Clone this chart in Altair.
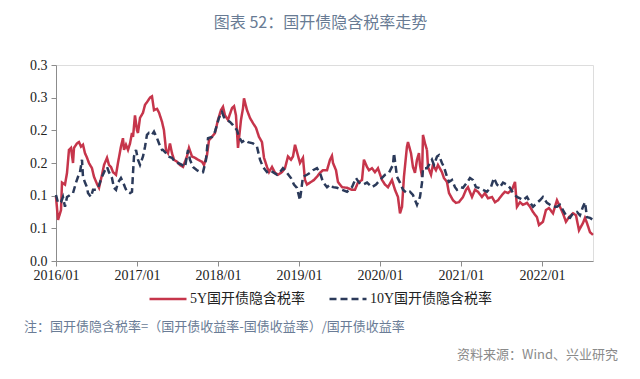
import altair as alt
import pandas as pd

series_names = ["5Y国开债隐含税率", "10Y国开债隐含税率"]

# 5Y series (decimal year, implied tax rate)
t_5y = [2016.000, 2016.025, 2016.062, 2016.074, 2016.111, 2016.136, 2016.160, 2016.185, 2016.210, 2016.222,
        2016.259, 2016.284, 2016.309, 2016.333, 2016.358, 2016.383, 2016.407, 2016.444, 2016.469, 2016.506,
        2016.531, 2016.568, 2016.593, 2016.630, 2016.654, 2016.679, 2016.704, 2016.741, 2016.765, 2016.802,
        2016.827, 2016.840, 2016.864, 2016.889, 2016.914, 2016.938, 2016.951, 2016.975, 2017.000, 2017.012,
        2017.037, 2017.074, 2017.099, 2017.123, 2017.160, 2017.185, 2017.210, 2017.247, 2017.272, 2017.309,
        2017.333, 2017.358, 2017.383, 2017.407, 2017.432, 2017.457, 2017.494, 2017.531, 2017.568, 2017.617,
        2017.642, 2017.679, 2017.716, 2017.753, 2017.802, 2017.827, 2017.864, 2017.889, 2017.926, 2017.963,
        2018.000, 2018.037, 2018.062, 2018.086, 2018.123, 2018.173, 2018.198, 2018.222, 2018.247, 2018.284,
        2018.309, 2018.321, 2018.358, 2018.395, 2018.432, 2018.469, 2018.506, 2018.543, 2018.568, 2018.605,
        2018.630, 2018.667, 2018.704, 2018.741, 2018.790, 2018.827, 2018.864, 2018.901, 2018.926, 2018.951,
        2018.975, 2019.012, 2019.049, 2019.074, 2019.099, 2019.148, 2019.185, 2019.222, 2019.259, 2019.296,
        2019.346, 2019.383, 2019.407, 2019.420, 2019.457, 2019.481, 2019.531, 2019.593, 2019.654, 2019.691,
        2019.728, 2019.778, 2019.802, 2019.840, 2019.864, 2019.901, 2019.938, 2019.975, 2020.025, 2020.062,
        2020.099, 2020.148, 2020.185, 2020.222, 2020.247, 2020.272, 2020.296, 2020.333, 2020.346, 2020.383,
        2020.407, 2020.432, 2020.457, 2020.481, 2020.494, 2020.519, 2020.531, 2020.556, 2020.580, 2020.593,
        2020.630, 2020.654, 2020.691, 2020.716, 2020.765, 2020.790, 2020.827, 2020.852, 2020.901, 2020.938,
        2020.975, 2021.025, 2021.062, 2021.086, 2021.136, 2021.173, 2021.210, 2021.259, 2021.296, 2021.333,
        2021.383, 2021.420, 2021.457, 2021.506, 2021.543, 2021.580, 2021.630, 2021.667, 2021.691, 2021.728,
        2021.765, 2021.815, 2021.852, 2021.889, 2021.938, 2021.963, 2022.012, 2022.049, 2022.086, 2022.136,
        2022.185, 2022.222, 2022.259, 2022.296, 2022.333, 2022.383, 2022.420, 2022.457, 2022.506, 2022.531,
        2022.556, 2022.593, 2022.630]
v_5y = [0.098, 0.063, 0.078, 0.120, 0.117, 0.135, 0.170, 0.173, 0.150, 0.173,
        0.180, 0.182, 0.175, 0.178, 0.165, 0.158, 0.150, 0.142, 0.129, 0.118,
        0.112, 0.132, 0.147, 0.158, 0.147, 0.144, 0.136, 0.132, 0.150, 0.175,
        0.188, 0.170, 0.178, 0.170, 0.180, 0.196, 0.190, 0.223, 0.200, 0.196,
        0.219, 0.227, 0.239, 0.243, 0.250, 0.252, 0.231, 0.233, 0.227, 0.213,
        0.200, 0.170, 0.165, 0.180, 0.165, 0.155, 0.152, 0.147, 0.144, 0.160,
        0.173, 0.160, 0.158, 0.155, 0.152, 0.147, 0.162, 0.185, 0.190, 0.196,
        0.216, 0.231, 0.236, 0.223, 0.216, 0.234, 0.237, 0.223, 0.173, 0.216,
        0.234, 0.249, 0.231, 0.219, 0.211, 0.204, 0.190, 0.182, 0.158, 0.144,
        0.136, 0.144, 0.135, 0.132, 0.136, 0.142, 0.160, 0.155, 0.160, 0.178,
        0.167, 0.150, 0.158, 0.124, 0.117, 0.121, 0.124, 0.129, 0.135, 0.139,
        0.139, 0.155, 0.161, 0.150, 0.139, 0.121, 0.113, 0.112, 0.109, 0.109,
        0.120, 0.124, 0.155, 0.144, 0.139, 0.142, 0.136, 0.142, 0.124, 0.117,
        0.113, 0.124, 0.109, 0.098, 0.073, 0.083, 0.129, 0.175, 0.182, 0.165,
        0.144, 0.135, 0.155, 0.165, 0.147, 0.129, 0.193, 0.180, 0.170, 0.144,
        0.132, 0.147, 0.139, 0.147, 0.136, 0.127, 0.121, 0.104, 0.093, 0.089,
        0.090, 0.098, 0.109, 0.113, 0.098, 0.109, 0.106, 0.098, 0.104, 0.096,
        0.098, 0.090, 0.093, 0.101, 0.106, 0.104, 0.109, 0.121, 0.083, 0.090,
        0.086, 0.089, 0.083, 0.075, 0.067, 0.055, 0.060, 0.078, 0.081, 0.073,
        0.093, 0.083, 0.073, 0.060, 0.067, 0.073, 0.070, 0.047, 0.058, 0.066,
        0.058, 0.044, 0.040]

# 10Y series (decimal year, implied tax rate)
t_10y = [2016.000, 2016.025, 2016.062, 2016.086, 2016.111, 2016.136, 2016.173, 2016.210, 2016.247, 2016.272,
         2016.296, 2016.321, 2016.333, 2016.358, 2016.383, 2016.395, 2016.432, 2016.457, 2016.494, 2016.519,
         2016.568, 2016.605, 2016.630, 2016.654, 2016.691, 2016.716, 2016.741, 2016.765, 2016.802, 2016.827,
         2016.852, 2016.877, 2016.914, 2016.938, 2016.951, 2016.963, 2016.988, 2017.012, 2017.037, 2017.074,
         2017.099, 2017.123, 2017.148, 2017.185, 2017.210, 2017.247, 2017.272, 2017.309, 2017.321, 2017.358,
         2017.383, 2017.432, 2017.469, 2017.506, 2017.556, 2017.593, 2017.630, 2017.654, 2017.691, 2017.741,
         2017.778, 2017.815, 2017.852, 2017.877, 2017.926, 2017.963, 2018.012, 2018.049, 2018.074, 2018.111,
         2018.148, 2018.185, 2018.235, 2018.259, 2018.296, 2018.333, 2018.370, 2018.432, 2018.481, 2018.519,
         2018.556, 2018.605, 2018.642, 2018.679, 2018.728, 2018.765, 2018.802, 2018.852, 2018.901, 2018.938,
         2018.975, 2019.012, 2019.049, 2019.099, 2019.136, 2019.173, 2019.222, 2019.259, 2019.296, 2019.346,
         2019.383, 2019.420, 2019.469, 2019.531, 2019.593, 2019.654, 2019.704, 2019.741, 2019.790, 2019.840,
         2019.901, 2019.951, 2020.000, 2020.062, 2020.111, 2020.160, 2020.173, 2020.210, 2020.247, 2020.284,
         2020.333, 2020.370, 2020.407, 2020.457, 2020.469, 2020.494, 2020.519, 2020.531, 2020.580, 2020.605,
         2020.642, 2020.667, 2020.704, 2020.728, 2020.765, 2020.790, 2020.827, 2020.852, 2020.889, 2020.926,
         2020.951, 2021.000, 2021.025, 2021.074, 2021.111, 2021.148, 2021.185, 2021.222, 2021.272, 2021.321,
         2021.370, 2021.407, 2021.444, 2021.481, 2021.519, 2021.568, 2021.605, 2021.642, 2021.691, 2021.728,
         2021.765, 2021.815, 2021.852, 2021.889, 2021.938, 2021.975, 2022.012, 2022.062, 2022.099, 2022.136,
         2022.185, 2022.222, 2022.259, 2022.309, 2022.346, 2022.383, 2022.432, 2022.469, 2022.506, 2022.531,
         2022.556, 2022.593, 2022.630]
v_10y = [0.101, 0.089, 0.090, 0.098, 0.083, 0.098, 0.101, 0.104, 0.120, 0.129,
         0.136, 0.155, 0.129, 0.120, 0.113, 0.104, 0.098, 0.109, 0.109, 0.112,
         0.129, 0.139, 0.144, 0.136, 0.127, 0.112, 0.109, 0.120, 0.127, 0.121,
         0.113, 0.106, 0.104, 0.106, 0.135, 0.160, 0.170, 0.155, 0.147, 0.160,
         0.175, 0.193, 0.196, 0.193, 0.198, 0.188, 0.180, 0.170, 0.170, 0.165,
         0.160, 0.158, 0.152, 0.150, 0.147, 0.144, 0.170, 0.155, 0.144, 0.139,
         0.136, 0.136, 0.155, 0.188, 0.190, 0.198, 0.219, 0.228, 0.220, 0.216,
         0.213, 0.208, 0.200, 0.190, 0.182, 0.185, 0.182, 0.180, 0.175, 0.155,
         0.144, 0.136, 0.139, 0.136, 0.132, 0.136, 0.142, 0.135, 0.127, 0.117,
         0.112, 0.093, 0.129, 0.132, 0.135, 0.139, 0.142, 0.135, 0.121, 0.113,
         0.117, 0.113, 0.112, 0.109, 0.106, 0.113, 0.127, 0.120, 0.117, 0.120,
         0.113, 0.117, 0.124, 0.132, 0.135, 0.147, 0.165, 0.129, 0.120, 0.109,
         0.104, 0.106, 0.101, 0.086, 0.090, 0.098, 0.120, 0.142, 0.142, 0.147,
         0.155, 0.147, 0.160, 0.162, 0.150, 0.144, 0.129, 0.121, 0.124, 0.113,
         0.109, 0.113, 0.112, 0.120, 0.127, 0.124, 0.113, 0.112, 0.109, 0.106,
         0.113, 0.127, 0.117, 0.113, 0.120, 0.117, 0.112, 0.104, 0.098, 0.096,
         0.093, 0.098, 0.090, 0.083, 0.089, 0.093, 0.098, 0.089, 0.086, 0.083,
         0.083, 0.086, 0.078, 0.067, 0.066, 0.073, 0.075, 0.070, 0.083, 0.090,
         0.067, 0.066, 0.063]

x_ticks = [2016, 2017, 2018, 2019, 2020, 2021, 2022]
y_ticks = [0.0, 0.05, 0.10, 0.15, 0.20, 0.25, 0.30]

title_text = "图表 52：国开债隐含税率走势"
note_text = "注：国开债隐含税率=（国开债收益率-国债收益率）/国开债收益率"
source_text = "资料来源：Wind、兴业研究"

df = pd.concat([
    pd.DataFrame({"t": t_5y, "v": v_5y, "s": series_names[0]}),
    pd.DataFrame({"t": t_10y, "v": v_10y, "s": series_names[1]}),
], ignore_index=True)

legend_cfg = dict(
    title=None, orient="none", legendX=92, legendY=214, direction="horizontal",
    labelFont="Liberation Serif, Noto Sans CJK SC", labelFontSize=14, labelColor="#222222",
    symbolType="stroke", symbolSize=1369, symbolStrokeWidth=2.5, labelOffset=2, columnPadding=18,
    labelLimit=300,
)

color = alt.Color("s:N", scale=alt.Scale(domain=series_names, range=["#c6354b", "#2b3a5a"]),
                  legend=alt.Legend(**legend_cfg))
dash = alt.StrokeDash("s:N", scale=alt.Scale(domain=series_names, range=[[1, 0], [7, 4]]),
                      legend=alt.Legend(**legend_cfg))

x = alt.X("t:Q", scale=alt.Scale(domain=[2016, 2022.63], nice=False, zero=False),
          axis=alt.Axis(values=x_ticks, labelExpr="datum.value + '/01'", title=None, grid=False,
                        labelFont="Liberation Serif", labelFontSize=14, labelColor="#222222",
                        domainColor="#8c8c8c", tickColor="#8c8c8c", tickSize=5, labelPadding=2,
                        labelFlush=False, labelOverlap=False))
y = alt.Y("v:Q", scale=alt.Scale(domain=[0, 0.3], nice=False),
          axis=alt.Axis(values=y_ticks, labelExpr="format(round(datum.value*10)/10, '.1f')",
                        title=None, grid=False, labelFont="Liberation Serif", labelFontSize=14,
                        labelColor="#222222", domainColor="#8c8c8c", tickColor="#8c8c8c",
                        tickSize=5, labelPadding=4, labelOverlap=False))

base = alt.Chart(df).mark_line(strokeWidth=2.5).encode(x=x, y=y, color=color, strokeDash=dash)
red = base.transform_filter(alt.datum.s == series_names[0])
blue = base.transform_filter(alt.datum.s == series_names[1])

note = alt.Chart(pd.DataFrame({"txt": [note_text]})).mark_text(
    align="left", baseline="middle", fontSize=13, font="Noto Sans CJK SC", color="#6a7c96"
).encode(text="txt:N", x=alt.value(-32), y=alt.value(262))

source = alt.Chart(pd.DataFrame({"txt": [source_text]})).mark_text(
    align="right", baseline="middle", fontSize=13, font="Noto Sans CJK SC", color="#8a8a8a"
).encode(text="txt:N", x=alt.value(562), y=alt.value(290))

chart = alt.layer(red, blue, note, source).properties(
    width=537, height=196,
    title=alt.TitleParams(title_text, fontSize=16, font="Noto Sans CJK SC", color="#687b94",
                          fontWeight="normal", anchor="middle", frame="group", dx=-4, offset=27),
    autosize=alt.AutoSizeParams(type="none"),
    padding={"left": 48, "top": 57, "right": 39, "bottom": 110},
).configure_view(stroke=None).configure(background="white")

chart.save("out.html", embed_options={"renderer": "svg", "actions": False})
